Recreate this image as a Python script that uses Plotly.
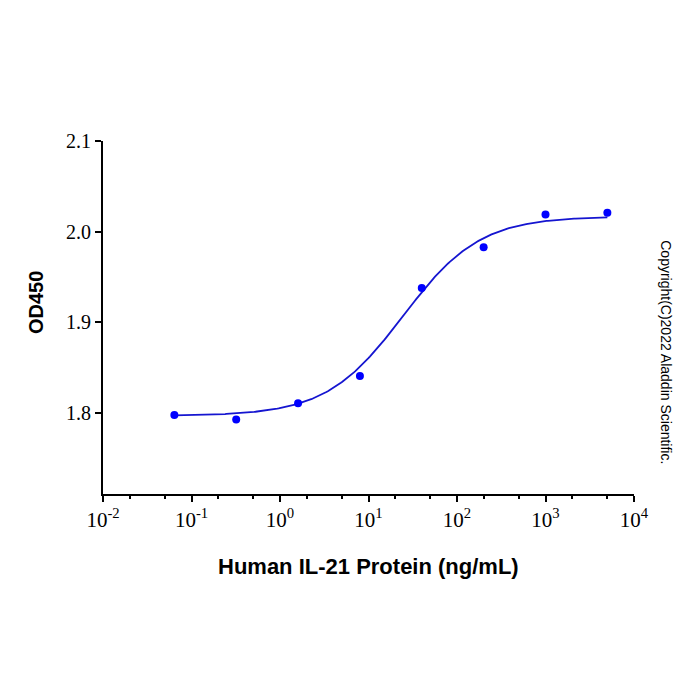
import numpy as np
import plotly.graph_objects as go

# Data
conc_ng_ml = [0.064, 0.32, 1.6, 8, 40, 200, 1000, 5000]
od450 = [1.798, 1.793, 1.811, 1.841, 1.938, 1.983, 2.019, 2.021]

# 4-parameter logistic fit parameters (as shown by the fitted curve)
fit_bottom = 1.797
fit_top = 2.017
fit_ec50 = 24.5
fit_hill = 1.0

y_ticks = [1.8, 1.9, 2.0, 2.1]
y_tick_labels = ["1.8", "1.9", "2.0", "2.1"]
x_ticks = [0.01, 0.1, 1, 10, 100, 1000, 10000]
x_tick_labels = ["10<sup>-2</sup>", "10<sup>-1</sup>", "10<sup>0</sup>", "10<sup>1</sup>",
                 "10<sup>2</sup>", "10<sup>3</sup>", "10<sup>4</sup>"]

xc = np.logspace(np.log10(min(conc_ng_ml)), np.log10(max(conc_ng_ml)), 300)
yc = fit_bottom + (fit_top - fit_bottom) / (1 + (fit_ec50 / xc) ** fit_hill)

fig = go.Figure()
fig.add_trace(go.Scatter(x=xc, y=yc, mode="lines",
                         line=dict(color="#1515d0", width=1.8), hoverinfo="skip"))
fig.add_trace(go.Scatter(x=conc_ng_ml, y=od450, mode="markers",
                         marker=dict(color="#0000ff", size=8)))

serif = "Liberation Serif, Times New Roman, serif"
sans = "Liberation Sans, Arial, sans-serif"

fig.update_layout(
    width=700, height=700,
    margin=dict(l=103, r=66, t=141, b=206),
    paper_bgcolor="white", plot_bgcolor="white",
    showlegend=False,
    xaxis=dict(type="log", range=[-2, 4], tickvals=x_ticks, ticktext=x_tick_labels,
               showgrid=False, zeroline=False,
               showline=True, linecolor="black", linewidth=2,
               ticks="outside", ticklen=6, tickwidth=2, tickcolor="black",
               tickfont=dict(family=serif, size=21, color="black"),
               minor=dict(ticks="outside", ticklen=3, tickwidth=1.5, tickcolor="black", showgrid=False)),
    yaxis=dict(range=[1.711, 2.1], tickvals=y_ticks, ticktext=y_tick_labels,
               showgrid=False, zeroline=False,
               showline=True, linecolor="black", linewidth=2,
               ticks="outside", ticklen=6, tickwidth=2, tickcolor="black",
               tickfont=dict(family=serif, size=20, color="black")),
    annotations=[
        dict(text="<b>Human IL-21 Protein (ng/mL)</b>", xref="paper", yref="paper",
             x=0.5, y=-0.204, xanchor="center", yanchor="middle", showarrow=False,
             font=dict(family=sans, size=22, color="black")),
        dict(text="<b>OD450</b>", xref="paper", yref="paper",
             x=-0.126, y=0.541, xanchor="center", yanchor="middle", textangle=-90, showarrow=False,
             font=dict(family=sans, size=20, color="black")),
        dict(text="Copyright(C)2022 Aladdin Scientific.", xref="paper", yref="paper",
             x=1.060, y=0.402, xanchor="center", yanchor="middle", textangle=90, showarrow=False,
             font=dict(family=sans, size=14, color="black")),
    ],
)

fig.write_html("out.html")
